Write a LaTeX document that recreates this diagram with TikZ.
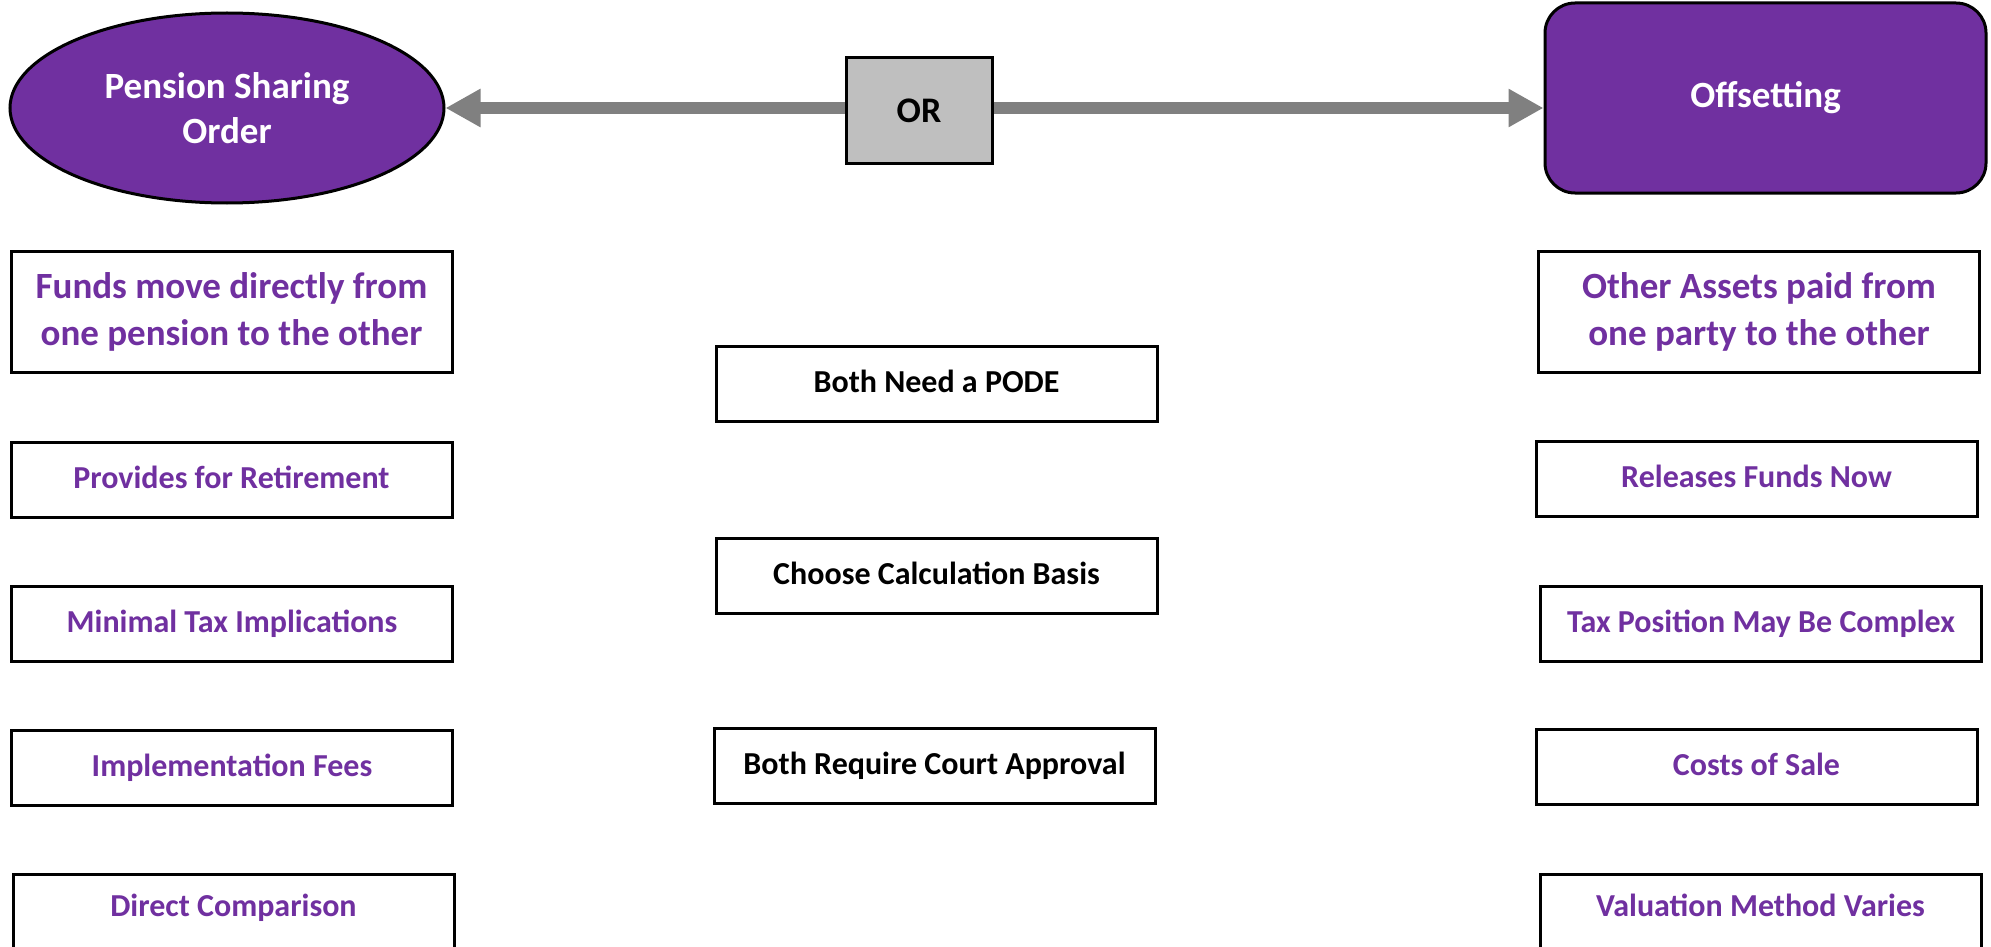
\documentclass[tikz,border=0pt]{standalone}
\usepackage{fontspec}
\setmainfont{Carlito}
\usetikzlibrary{shapes.geometric,arrows.meta}
\definecolor{pur}{HTML}{7030A0}
\definecolor{orgray}{HTML}{BFBFBF}
\definecolor{arrgray}{HTML}{808080}
\newcommand{\upt}[2][5pt]{\raisebox{#1}{#2}}
\tikzset{
  box/.style={draw=black,line width=3pt,fill=white,minimum width=441pt,minimum height=75pt,inner sep=0pt,align=center,font=\fontsize{32}{40}\selectfont\bfseries},
  pbox/.style={box,text=pur},
  bigbox/.style={pbox,minimum height=121pt,font=\fontsize{37}{47}\selectfont\bfseries},
  mbox/.style={box,text=black},
  head/.style={draw=black,line width=3pt,fill=pur,text=white,inner sep=0pt,align=center,font=\fontsize{37}{45}\selectfont\bfseries},
  arr/.style={draw=arrgray,line width=12pt,-{Triangle[length=35pt,width=36pt]}}
}
\begin{document}
\begin{tikzpicture}[x=1pt,y=-1pt]
\useasboundingbox (0,0) rectangle (1991,947);
% headers
\node[head,ellipse,minimum width=434pt,minimum height=190pt] (pso) at (227,108) {Pension Sharing\\Order};
\node[head,rounded corners=30pt,minimum width=441pt,minimum height=190pt] (off) at (1765.5,98) {\upt[-3pt]{Offsetting}};
\node[draw=black,line width=3pt,fill=orgray,minimum width=146pt,minimum height=105pt,inner sep=0pt,font=\fontsize{36}{40}\selectfont\bfseries] (or) at (919,110.5) {OR};
\draw[arr] (or.west |- pso.center) -- (pso.east);
\draw[arr] (or.east |- pso.center) -- (off.west |- pso.center);
% left column
\node[bigbox] (l1) at (231.5,311.5) {Funds move directly from\\one pension to the other};
\node[pbox] (l2) at (231.5,479.5) {\upt{Provides for Retirement}};
\node[pbox] (l3) at (232,624) {\upt{Minimal Tax Implications}};
\node[pbox] (l4) at (232,768) {\upt{Implementation Fees}};
\node[pbox,minimum height=76pt] (l5) at (233.5,912) {\upt[13pt]{Direct Comparison}};
% right column
\node[bigbox] (r1) at (1759,311.5) {Other Assets paid from\\one party to the other};
\node[pbox] (r2) at (1756.5,479) {\upt{Releases Funds Now}};
\node[pbox] (r3) at (1761,624) {\upt{Tax Position May Be Complex}};
\node[pbox] (r4) at (1756.5,766.5) {\upt{Costs of Sale}};
\node[pbox,minimum height=76pt] (r5) at (1760.5,912) {\upt[13pt]{Valuation Method Varies}};
% middle column
\node[mbox] (m1) at (936.5,383.5) {\upt{Both Need a PODE}};
\node[mbox] (m2) at (936.5,575.5) {\upt{Choose Calculation Basis}};
\node[mbox] (m3) at (934.5,765.5) {\upt{Both Require Court Approval}};
\end{tikzpicture}
\end{document}
